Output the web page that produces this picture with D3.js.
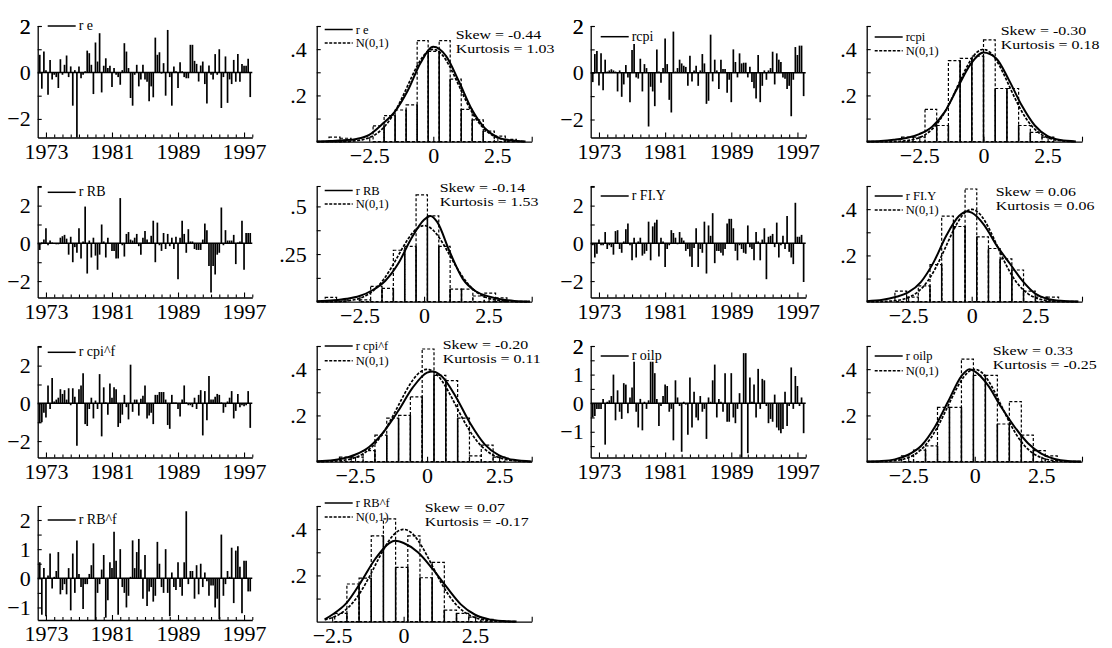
<!DOCTYPE html>
<html>
<head>
<meta charset="utf-8">
<script src="https://cdn.jsdelivr.net/npm/d3@7"></script>
<style>
body { margin: 0; background: #fff; }
svg { display: block; }
text { font-family: "Liberation Serif", "Times New Roman", serif; fill: #000; }
</style>
</head>
<body>
<svg id="chart" width="1112" height="648"></svg>
<script>
// quarterly residuals, 1972Q2 - 1997Q4
var firstQuarter = 1972.25;
var yearLabels = ["1973", "1981", "1989", "1997"];
var seriesNames = ["r e", "rcpi", "r RB", "r FI.Y", "r cpi^f", "r oilp", "r RB^f"];
var skewText = ["-0.44", "-0.30", "-0.14", "0.06", "-0.20", "0.33", "0.07"];
var kurtText = ["1.03", "0.18", "1.53", "0.06", "0.11", "-0.25", "-0.17"];

var resE = [0.76,-0.7,0.9,0.1,-0.96,0.54,-0.3,-0.1,-0.2,-0.67,
	0.57,-0.1,0.33,0.73,-0.2,0.26,-1.43,0.1,-2.8,0.26,
	-0.25,-0.1,0.05,0.94,0.83,0.33,-0.93,1.29,0.47,1.69,
	-0.86,0.29,0.61,0.19,0.29,-0.63,0.19,-0.1,-0.2,-0.53,
	0.1,1.26,0.9,0.19,-1.1,-1.43,-0.1,0.33,-0.6,-0.3,
	0.33,-0.3,-0.4,-1.24,-0.6,-1.07,1.5,0.76,0.87,-0.05,
	0.4,-1.0,1.83,-0.2,-1.43,0.26,0.05,-0.67,0.44,0.05,
	-0.2,-0.25,-0.25,1.19,1.19,0.5,0.37,-0.39,0.3,0.47,
	-0.5,-1.34,0.3,-0.1,-0.3,0.79,-0.1,1.0,-1.53,-0.2,
	0.69,-1.31,-0.3,-0.5,0.54,-0.4,0.79,-0.4,0.36,0.29,
	0.29,0.59,-1.06];
var resCpi = [-0.4,0.8,0.93,-0.55,0.83,-0.75,0.56,0.05,0.1,0.15,
	0.1,0.05,-0.8,0.1,-1.03,-0.5,0.33,-0.2,-1.26,0.97,
	1.23,-0.2,-0.25,0.6,-0.8,0.37,0.2,-2.3,-0.6,-0.8,
	-1.43,1.0,0.05,-0.43,0.2,1.46,0.37,-1.16,-1.7,1.76,
	0.05,0.2,0.56,0.4,0.3,0.25,-0.56,0.73,-0.37,0.1,
	0.3,-0.56,0.1,0.8,0.4,-1.33,-1.2,1.63,-0.37,0.56,
	0.1,-0.7,0.56,0.16,0.16,-0.86,-0.3,-1.26,1.0,0.46,
	-0.2,0.83,0.4,0.43,0.43,-0.2,0.26,-0.4,-0.66,-1.1,
	0.76,-1.26,-0.56,0.1,-0.3,0.1,0.2,0.9,-0.5,0.83,
	0.56,0.46,-0.2,-0.26,-0.7,-0.56,-1.86,-0.3,1.1,0.76,
	1.16,1.16,-1.0];
var resRB = [-0.35,0.05,0.2,0.8,-0.1,0.15,0.05,0,-0.05,-0.05,
	0.3,0.38,0.45,0.25,-0.6,0.35,-1.0,-0.2,-0.5,0.8,
	-0.8,0.1,1.95,-1.6,0.15,-0.75,0.3,-0.65,-1.4,-0.6,
	1.0,0.1,-0.75,0.3,0.02,-0.4,-0.4,-0.8,-0.8,2.4,
	-0.1,-0.7,0.5,0.6,0.2,0.15,0.3,0.5,-0.15,-0.6,
	0.3,0.65,0.2,0.05,0.4,1.2,-1.0,1.1,-0.1,-0.4,
	0.55,-0.3,0.5,-0.15,0.3,-0.3,0.35,-1.9,0.3,1.2,
	0.5,-0.5,0.75,0.1,0.1,-0.3,-0.35,-0.35,-0.35,0.2,
	1.05,0.7,-1.2,-2.6,-1.2,-1.65,-0.6,-0.5,1.9,-0.1,
	0.7,0.15,0.15,0.15,0.45,-1.1,0.05,0.1,1.2,-1.4,
	0.55,0.55,0.55];
var resFIY = [-0.1,-0.75,-0.55,0.2,-0.1,-0.1,0.6,-0.3,-0.1,-0.2,
	-0.6,0.65,0.7,-0.3,-0.5,0.1,0.75,1.05,-0.1,-0.9,
	0.3,-0.75,0.1,0.3,-0.65,-0.55,-0.4,1.15,-0.9,0.9,
	1.1,1.25,-0.7,0.3,0.1,-1.25,-0.3,-0.1,0.7,0.55,
	0.3,-0.05,0.6,0.3,0.15,-0.4,-0.3,-0.7,-1.25,-0.25,
	0.8,-1.25,-0.3,-0.5,1.15,-1.6,0.95,0.4,1.6,-1.05,
	-0.4,-0.4,-0.5,-0.65,-0.3,1.05,1.3,1.3,0.8,-0.4,
	-0.9,-0.1,-0.3,-0.5,-0.55,0.95,-0.2,-0.3,-0.9,0.6,
	0.1,-0.9,0.2,0.8,-1.9,0.35,0.4,0.5,-0.2,1.1,
	-0.75,-0.1,0.4,-0.3,1.45,-0.45,-0.75,-1.1,2.15,0.35,
	0.35,0.45,-2.05];
var resCpif = [-1.05,-1.0,-0.5,-0.75,0.95,-0.3,1.35,0.1,0.2,0.3,
	0.75,0.5,0.7,0.2,0.8,-0.1,0.8,0.35,-2.25,0.75,
	0.95,1.6,-1.1,-1.2,-0.3,0.3,-0.8,0.15,-0.3,1.55,
	-1.75,0.85,0.05,-0.6,1.05,0.3,0.85,0.75,-1.25,-1.05,
	-0.6,0.45,-0.2,-0.85,2.05,-0.45,0.2,0.2,-0.65,0.25,
	0.4,0.95,-0.8,-0.65,-0.5,-1.1,0.45,0.45,0.6,0.6,
	0.6,0.2,-1.15,-1.35,0.45,0.05,0.05,-0.3,-0.7,0.2,
	0.95,0.05,-0.1,-0.1,-0.2,0.3,-0.3,0.45,0.7,-1.7,
	0.65,-0.9,1.45,0.2,0.2,0.35,0.5,0.45,0.05,-0.5,
	-0.2,0.1,0.3,0.65,-0.8,-0.4,0.5,-0.2,-0.1,-0.15,
	-0.1,0.65,-1.3];
var resOilp = [-0.5,-0.45,-0.2,-0.2,-0.2,0.15,-1.45,0.05,0.1,0.25,
	1.0,-0.6,0.45,-0.3,-0.55,0.7,0.65,-0.35,0.2,0.55,
	1.45,-0.3,-0.85,0.15,-0.95,0.05,-0.2,0.1,1.45,1.45,
	1.05,0.15,-0.8,-0.1,0.25,0.65,0.6,-0.3,-0.2,-1.3,
	0.8,0.2,-0.1,-1.7,0.05,-0.05,-1.1,0.9,-0.85,0.4,
	-0.5,-0.6,0.25,-0.3,-0.2,-1.25,0.2,0.05,0.8,1.35,
	-0.5,0.15,0.05,-0.3,1.05,-0.65,-0.65,1.05,-0.5,-0.7,
	-0.2,0.35,-1.9,1.75,1.75,-1.75,0.9,0.05,0.65,-0.5,
	1.2,-0.2,0.85,0.8,-0.1,-0.7,-0.55,-0.65,0.3,-0.85,
	-0.95,-1.05,-0.9,0.4,-0.8,-0.1,1.25,-0.2,0.95,0.6,
	-0.1,0.2,-1.05];
var resRBf = [0.55,-1.25,0.35,-1.3,0.1,0.85,-0.35,0.05,0.25,0.9,
	-0.55,-0.4,-0.2,-0.55,0.35,-1.1,0.85,-0.5,1.3,0.15,
	-0.3,-1.05,-0.2,-0.2,0.15,0.45,1.2,-1.45,-0.5,-0.2,
	0.3,0.8,-1.35,-0.75,0.55,0.35,1.6,0.6,-1.25,1.0,
	-0.3,-0.5,-1.0,-0.6,0.05,1.3,0.35,0.9,1.35,0.3,
	-0.7,0.8,-0.95,-0.45,-0.3,-0.8,-0.6,1.25,0.5,-0.3,
	-0.5,1.0,-0.5,-1.3,0.2,-0.3,-0.4,0.55,-0.3,-0.6,
	0.55,2.3,-0.2,0.25,0.25,-0.7,0.45,-0.55,0.5,-0.3,
	0.2,-0.1,-0.6,-0.25,-0.25,-1.0,-0.7,-1.4,1.5,-0.6,
	-0.2,0.25,0.05,1.05,-0.85,0.95,1.1,0.4,-1.2,0.6,
	0.6,-0.45,-0.45];

// histogram bins: first edge, width, heights
var histLo = [-4.07, -3.19, -3.83, -3.02, -3.04, -2.75, -2.41];
var histWidth = [0.43, 0.456, 0.44, 0.46, 0.41, 0.45, 0.426];
var histE = [0.02,0.015,0,0,0.068,0.113,0.137,0.159,0.437,0.39,0.437,0.27,0.14,0.094,0.046,0.024,0.01];
var histCpi = [0.02,0.02,0.14,0.07,0.35,0.36,0.37,0.44,0.23,0.23,0.07,0.04,0.02];
var histRB = [0.023,0.01,0,0.01,0.08,0.07,0.27,0.29,0.56,0.45,0.29,0.066,0.066,0.03,0.045,0.02];
var histFIY = [0.046,0.02,0.068,0.16,0.37,0.325,0.487,0.28,0.23,0.185,0.137,0.046,0.02,0.02];
var histCpif = [0.02,0.02,0.048,0.115,0.188,0.2,0.28,0.487,0.373,0.35,0.188,0.025,0.072,0.02];
var histOilp = [0.025,0.05,0.068,0.235,0.235,0.443,0.373,0.373,0.163,0.26,0.115,0.048,0.025];
var histRBf = [0.036,0.163,0.188,0.371,0.444,0.235,0.371,0.19,0.256,0.05,0.036,0.02,0.01];

// estimated densities [x, density]
var densE = [[-4.55,0.001],[-4,0.003],[-3.5,0.006],[-3,0.012],[-2.5,0.03],[-2,0.075],[-1.5,0.13],[-1,0.22],[-0.5,0.34],[0,0.41],[0.5,0.37],[1,0.26],[1.5,0.14],[2,0.06],[2.5,0.02],[3,0.006],[3.6,0.001]];
var densCpi = [[-4.55,0.001],[-4,0.003],[-3.5,0.008],[-3,0.016],[-2.5,0.033],[-2,0.065],[-1.5,0.13],[-1,0.235],[-0.5,0.335],[0,0.385],[0.5,0.36],[1,0.265],[1.5,0.155],[2,0.07],[2.5,0.024],[3,0.007],[3.6,0.001]];
var densRB = [[-4.16,0.002],[-3.5,0.007],[-3,0.015],[-2.5,0.03],[-2,0.06],[-1.5,0.11],[-1,0.2],[-0.5,0.33],[0,0.43],[0.25,0.45],[0.5,0.42],[1,0.26],[1.5,0.12],[2,0.055],[2.5,0.028],[3,0.012],[3.5,0.004],[4.1,0.001]];
var densFIY = [[-4.13,0.002],[-3.5,0.008],[-3,0.02],[-2.5,0.04],[-2,0.085],[-1.5,0.17],[-1,0.285],[-0.5,0.37],[-0.2,0.39],[0,0.385],[0.5,0.33],[1,0.24],[1.5,0.165],[2,0.09],[2.5,0.035],[3,0.012],[3.5,0.004],[4.2,0.001]];
var densCpif = [[-3.83,0.002],[-3.5,0.004],[-3,0.012],[-2.5,0.03],[-2,0.065],[-1.5,0.13],[-1,0.22],[-0.5,0.32],[0,0.385],[0.2,0.39],[0.5,0.37],[1,0.28],[1.5,0.165],[2,0.075],[2.5,0.027],[3,0.008],[3.63,0.001]];
var densOilp = [[-4.06,0.001],[-3.5,0.003],[-3,0.01],[-2.5,0.03],[-2,0.07],[-1.5,0.15],[-1,0.26],[-0.5,0.37],[-0.2,0.4],[0,0.39],[0.5,0.33],[1,0.235],[1.5,0.15],[2,0.08],[2.5,0.035],[3,0.012],[3.5,0.003],[4,0.001]];
var densRBf = [[-2.76,0.01],[-2.5,0.03],[-2,0.08],[-1.5,0.17],[-1,0.27],[-0.5,0.34],[-0.3,0.35],[0,0.34],[0.5,0.3],[1,0.23],[1.5,0.15],[2,0.075],[2.5,0.03],[3,0.01],[3.5,0.003],[3.95,0.001]];

var residuals = [resE, resCpi, resRB, resFIY, resCpif, resOilp, resRBf];
var hists = [histE, histCpi, histRB, histFIY, histCpif, histOilp, histRBf];
var dens = [densE, densCpi, densRB, densFIY, densCpif, densOilp, densRBf];

// layout
var rowTop = [26, 186, 346, 506];
var tsCols = [{L: 37.7, R: 252.3}, {L: 590.7, R: 805.7}];
var hCols = [{L: 316.7, R: 531.7}, {L: 866.7, R: 1082}];

var tsLayout = [
	{dom: [-2.8, 2], step: 1, labels: [-2, 0, 2], leg: 0, h: 111.5},
	{dom: [-2.77, 2], step: 1, labels: [-2, 0, 2], leg: 10.7, h: 111.5},
	{dom: [-2.87, 3.04], step: 1, labels: [-2, 0, 2], leg: 6.3, h: 111.5},
	{dom: [-2.87, 3.04], step: 1, labels: [-2, 0, 2], leg: 10, h: 111.5},
	{dom: [-2.87, 3.04], step: 1, labels: [-2, 0, 2], leg: 6.3, h: 111.5},
	{dom: [-1.9, 2], step: 0.5, labels: [-1, 0, 1, 2], leg: 10, h: 111.5},
	{dom: [-1.43, 2.48], step: 0.5, labels: [-1, 0, 1, 2], leg: 14, h: 114}
];
var hLayout = [
	{xDom: [-4.55, 3.84], yTop: 0.5, step: 0.1, labels: [0.2, 0.4], leg: [3.5, 17], sk: [139, 13, 27]},
	{xDom: [-4.55, 3.84], yTop: 0.5, step: 0.1, labels: [0.2, 0.4], leg: [11, 24.7], sk: [134, 8.5, 22.5]},
	{xDom: [-4.16, 4.17], yTop: 0.607, step: 0.125, labels: [0.25, 0.5], leg: [4.5, 18], sk: [123, 6, 20]},
	{xDom: [-4.13, 4.34], yTop: 0.5, step: 0.1, labels: [0.2, 0.4], leg: [10, 24], sk: [129, 9.5, 23.5]},
	{xDom: [-3.83, 3.63], yTop: 0.5, step: 0.1, labels: [0.2, 0.4], leg: [0, 14.7], sk: [126, 3, 17]},
	{xDom: [-4.06, 4.03], yTop: 0.5, step: 0.1, labels: [0.2, 0.4], leg: [10, 24.7], sk: [126, 8.5, 22.5]},
	{xDom: [-3.04, 4.48], yTop: 0.5, step: 0.1, labels: [0.2, 0.4], leg: [-3, 11], sk: [108, 6, 20]}
];

var svg = d3.select("#chart");

function styleAxis(g) {
	g.attr("font-family", null).attr("font-size", null);
	g.select(".domain").attr("stroke", "#000").attr("stroke-width", 1.3);
	g.selectAll(".tick line").attr("stroke", "#000").attr("stroke-width", 1.1);
	g.selectAll(".tick text").style("font-size", "22px");
}

function near(a, b) { return Math.abs(a - b) < 1e-6; }

// text stretched sideways a little, like the original output
function wideText(g, x, y, size, str) {
	return g.append("text")
		.attr("transform", "translate(" + x + "," + y + ") scale(1.18,1)")
		.style("font-size", size + "px")
		.text(str);
}

function drawTS(k) {
	var row = Math.floor(k / 2), side = k % 2;
	var lay = tsLayout[k];
	var L = tsCols[side].L, R = tsCols[side].R, T = rowTop[row], B = T + lay.h;
	var x = d3.scaleLinear().domain([1972, 1998]).range([L, R]);
	var y = d3.scaleLinear().domain(lay.dom).range([B, T]);
	var g = svg.append("g");

	// spikes
	g.append("g").selectAll("line")
		.data(residuals[k])
		.join("line")
			.attr("x1", function(d, i) { return x(firstQuarter + i * 0.25); })
			.attr("x2", function(d, i) { return x(firstQuarter + i * 0.25); })
			.attr("y1", y(0))
			.attr("y2", function(d) { return y(d); })
			.attr("stroke", "#000")
			.attr("stroke-width", 1.7);

	g.append("line")
		.attr("x1", L).attr("x2", R).attr("y1", y(0)).attr("y2", y(0))
		.attr("stroke", "#000").attr("stroke-width", 1.5);

	// y axis
	var yt = d3.range(Math.ceil(lay.dom[0] / lay.step) * lay.step, lay.dom[1] + 1e-9, lay.step);
	yt.push(lay.dom[1]);
	var ya = g.append("g")
		.attr("transform", "translate(" + L + ",0)")
		.call(d3.axisLeft(y).tickValues(yt).tickSize(-4).tickSizeOuter(0).tickPadding(7)
			.tickFormat(function(d) {
				return lay.labels.some(function(v) { return near(v, d); }) ? d3.format("d")(d) : "";
			}));
	styleAxis(ya);

	// x axis
	var xt = d3.range(1973, 1999);
	var xa = g.append("g")
		.attr("transform", "translate(0," + B + ")")
		.call(d3.axisBottom(x).tickValues(xt).tickSize(-3).tickSizeOuter(0)
			.tickFormat(function(d) { return yearLabels.indexOf(String(d)) >= 0 ? String(d) : ""; }));
	styleAxis(xa);
	xa.selectAll(".tick line").attr("y2", function(d) {
		return yearLabels.indexOf(String(d)) >= 0 ? -5 : -3;
	});
	xa.selectAll(".tick text").attr("y", 21).attr("dy", null);

	// legend
	var ly = T + lay.leg;
	g.append("line").attr("x1", L + 10).attr("x2", L + 38).attr("y1", ly).attr("y2", ly)
		.attr("stroke", "#000").attr("stroke-width", 1.5);
	g.append("text").attr("x", L + 41).attr("y", ly + 4).style("font-size", "14px").text(seriesNames[k]);
}

function drawHist(k) {
	var row = Math.floor(k / 2), side = k % 2;
	var lay = hLayout[k];
	var L = hCols[side].L, R = hCols[side].R, T = rowTop[row], B = T + 115.7;
	var x = d3.scaleLinear().domain(lay.xDom).range([L, R]);
	var y = d3.scaleLinear().domain([0, lay.yTop]).range([B, T]);
	var g = svg.append("g");

	var heights = hists[k];
	var lo = histLo[k], w = histWidth[k];
	var bins = heights.map(function(h, i) { return {x0: lo + i * w, x1: lo + (i + 1) * w, h: h}; });

	// dashed bars
	g.append("g").selectAll("rect")
		.data(bins.filter(function(b) { return b.h > 0; }))
		.join("rect")
			.attr("x", function(b) { return x(b.x0); })
			.attr("width", function(b) { return x(b.x1) - x(b.x0); })
			.attr("y", function(b) { return y(b.h); })
			.attr("height", function(b) { return B - y(b.h); })
			.attr("fill", "none")
			.attr("stroke", "#000")
			.attr("stroke-width", 1.2)
			.attr("stroke-dasharray", "3,2");

	// solid bar edges
	var edges = bins.slice(1).map(function(b, i) {
		return {x: b.x0, h: Math.min(b.h, bins[i].h)};
	}).filter(function(e) { return e.h > 0.03; });
	g.append("g").selectAll("line")
		.data(edges)
		.join("line")
			.attr("x1", function(e) { return x(e.x); })
			.attr("x2", function(e) { return x(e.x); })
			.attr("y1", B)
			.attr("y2", function(e) { return y(e.h); })
			.attr("stroke", "#000")
			.attr("stroke-width", 1.5);

	var line = d3.line()
		.x(function(d) { return x(d[0]); })
		.y(function(d) { return y(d[1]); })
		.curve(d3.curveMonotoneX);

	// N(0,1) reference density
	var dk = dens[k];
	var nx = d3.range(dk[0][0], dk[dk.length - 1][0] + 1e-9, 0.05);
	var normal = nx.map(function(v) { return [v, Math.exp(-v * v / 2) / Math.sqrt(2 * Math.PI)]; });
	g.append("path").datum(normal).attr("d", line)
		.attr("fill", "none").attr("stroke", "#000").attr("stroke-width", 1.7)
		.attr("stroke-dasharray", "3,1.5");

	// estimated density
	g.append("path").datum(dk).attr("d", line)
		.attr("fill", "none").attr("stroke", "#000").attr("stroke-width", 2);

	// axes
	var yt = d3.range(lay.step, lay.yTop + 1e-9, lay.step);
	yt.push(lay.yTop);
	var ya = g.append("g")
		.attr("transform", "translate(" + L + ",0)")
		.call(d3.axisLeft(y).tickValues(yt).tickSize(-4).tickSizeOuter(0).tickPadding(10)
			.tickFormat(function(d) {
				return lay.labels.some(function(v) { return near(v, d); }) ? d3.format("~g")(d).replace(/^0\./, ".") : "";
			}));
	styleAxis(ya);

	var xa = g.append("g")
		.attr("transform", "translate(0," + B + ")")
		.call(d3.axisBottom(x).tickValues([-2.5, 0, 2.5, lay.xDom[1]]).tickSize(-5).tickSizeOuter(0)
			.tickFormat(function(d) { return near(d, lay.xDom[1]) ? "" : d3.format("~g")(d); }));
	styleAxis(xa);
	xa.selectAll(".tick text").attr("y", 21).attr("dy", null);

	// legend
	var l1 = T + lay.leg[0], l2 = T + lay.leg[1];
	g.append("line").attr("x1", L + 8).attr("x2", L + 36).attr("y1", l1).attr("y2", l1)
		.attr("stroke", "#000").attr("stroke-width", 1.5);
	g.append("text").attr("x", L + 39).attr("y", l1 + 4).style("font-size", "12.5px").text(seriesNames[k]);
	g.append("line").attr("x1", L + 8).attr("x2", L + 36).attr("y1", l2).attr("y2", l2)
		.attr("stroke", "#000").attr("stroke-width", 1.5).attr("stroke-dasharray", "3,1.5");
	g.append("text").attr("x", L + 39).attr("y", l2 + 4).style("font-size", "12.5px").text("N(0,1)");

	// moments
	wideText(g, L + lay.sk[0], T + lay.sk[1], 13.5, "Skew = " + skewText[k]);
	wideText(g, L + lay.sk[0], T + lay.sk[2], 13.5, "Kurtosis = " + kurtText[k]);
}

for (var k = 0; k < residuals.length; k++) {
	drawTS(k);
	drawHist(k);
}
</script>
</body>
</html>
